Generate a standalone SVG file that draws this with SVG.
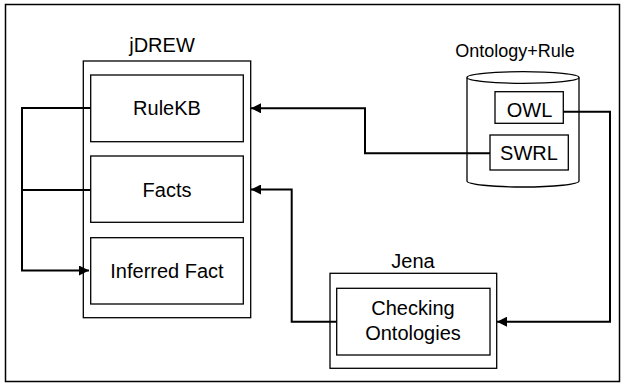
<svg xmlns="http://www.w3.org/2000/svg" width="621" height="383" viewBox="0 0 621 383">
<defs>
<style>
.box{fill:none;stroke:#000;stroke-width:1.3}
.frame{fill:none;stroke:#000;stroke-width:1.5}
.conn{fill:none;stroke:#000;stroke-width:2}
text{font-family:"Liberation Sans",Arial,sans-serif;font-size:20px;fill:#000;text-anchor:middle}
</style>
<marker id="arr" viewBox="0 0 10 10" refX="10" refY="5" markerWidth="5" markerHeight="5" orient="auto" markerUnits="strokeWidth">
<path d="M0,0 L10,5 L0,10 z" fill="#000"/>
</marker>
</defs>
<rect width="621" height="383" fill="#fff"/>
<rect class="frame" x="5.5" y="4.5" width="614" height="377"/>

<g id="connectors">
<path class="conn" d="M90.7,108 H22 V270.5 H89" marker-end="url(#arr)"/>
<path class="conn" d="M90.7,190 H22"/>
<path class="conn" d="M490,153.3 H365 V108.3 H251" marker-end="url(#arr)"/>
<path class="conn" d="M336.7,321.7 H291.7 V189.5 H251" marker-end="url(#arr)"/>
<path class="conn" d="M563,111.7 H610 V321.7 H497" marker-end="url(#arr)"/>
</g>

<g id="jdrew">
<text x="162" y="51.5">jDREW</text>
<rect class="box" x="83.3" y="61" width="167.4" height="256.7"/>
</g>
<g id="rulekb">
<rect class="box" x="90.7" y="75" width="152.6" height="66.7"/>
<text x="167" y="115">RuleKB</text>
</g>
<g id="facts">
<rect class="box" x="90.7" y="156" width="152.6" height="66.3"/>
<text x="167" y="196.5">Facts</text>
</g>
<g id="inferred">
<rect class="box" x="90.7" y="237.7" width="152.6" height="66.3"/>
<text x="167" y="278">Inferred Fact</text>
</g>

<g id="ontology">
<text x="515" y="56.7" style="font-size:18px">Ontology+Rule</text>
<path class="box" d="M467,77.5 V181 A56,6 0 0 0 579,181 V77.5"/>
<ellipse class="box" cx="523" cy="77.5" rx="56" ry="5.8"/>
</g>
<g id="owl">
<rect class="box" x="495" y="91.7" width="68.3" height="31.6"/>
<text x="529.5" y="116.5">OWL</text>
</g>
<g id="swrl">
<rect class="box" x="490" y="135" width="78.3" height="35"/>
<text x="529" y="160">SWRL</text>
</g>

<g id="jena">
<text x="413" y="268">Jena</text>
<rect class="box" x="330" y="273.3" width="166.7" height="95"/>
</g>
<g id="checking">
<rect class="box" x="336.7" y="288.3" width="153.3" height="66.7"/>
<text x="413" y="315">Checking</text>
<text x="413" y="340">Ontologies</text>
</g>
</svg>
